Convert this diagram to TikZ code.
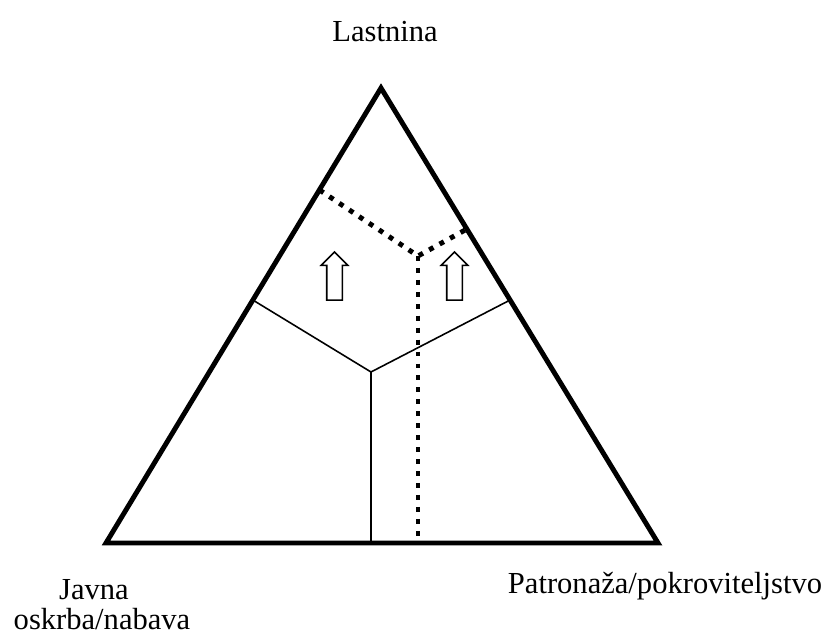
\documentclass[tikz,border=0pt]{standalone}
\usepackage{fontspec}
\setmainfont{Liberation Serif}
\usetikzlibrary{shapes.arrows, calc}

\begin{document}
\begin{tikzpicture}[x=0.02cm, y=-0.02cm,
    every node/.style={font=\fontsize{17.4}{20}\selectfont, inner sep=0pt},
    edge/.style={line width=2.8pt, line join=miter},
    divide/.style={line width=0.9pt},
    shifted/.style={line width=2.8pt, dash pattern=on 2.8pt off 4pt},
    uparrow/.style={single arrow, draw, line width=0.9pt, rotate=90, inner sep=0.14cm, minimum height=0.96cm, single arrow head extend=0.11cm}
]
\useasboundingbox (0,0) rectangle (839,635);

% Triangle
\coordinate (apex) at (381,88);
\coordinate (lcorner) at (106,543);
\coordinate (rcorner) at (658,543);
\draw[edge] (apex) -- (lcorner) -- (rcorner) -- cycle;

% Solid division
\coordinate (mid) at (371,372);
\coordinate (midL) at ($(apex)!0.466!(lcorner)$);
\coordinate (midR) at ($(apex)!0.466!(rcorner)$);
\draw[divide] (midL) -- (mid) -- (midR);
\draw[divide] (mid) -- (mid |- lcorner);

% Shifted division
\coordinate (shift) at (418,256);
\coordinate (shiftL) at ($(apex)!0.224!(lcorner)$);
\coordinate (shiftR) at ($(apex)!0.31!(rcorner)$);
\draw[shifted] (shiftL) -- (shift) -- (shiftR);
\draw[shifted] (shift) -- (shift |- lcorner);

% Arrows
\node[uparrow] (arrowL) at (334.5,280) {};
\node[uparrow] (arrowR) at (454.5,280) {};

% Labels
\node[anchor=base] (own) at (385,42) {Lastnina};
\node[anchor=base] (pub1) at (94,599) {Javna};
\node[anchor=base] (pub2) at (102,629) {oskrba/nabava};
\node[anchor=base] (pat) at (665,593) {Patronaža/pokroviteljstvo};

\end{tikzpicture}
\end{document}
